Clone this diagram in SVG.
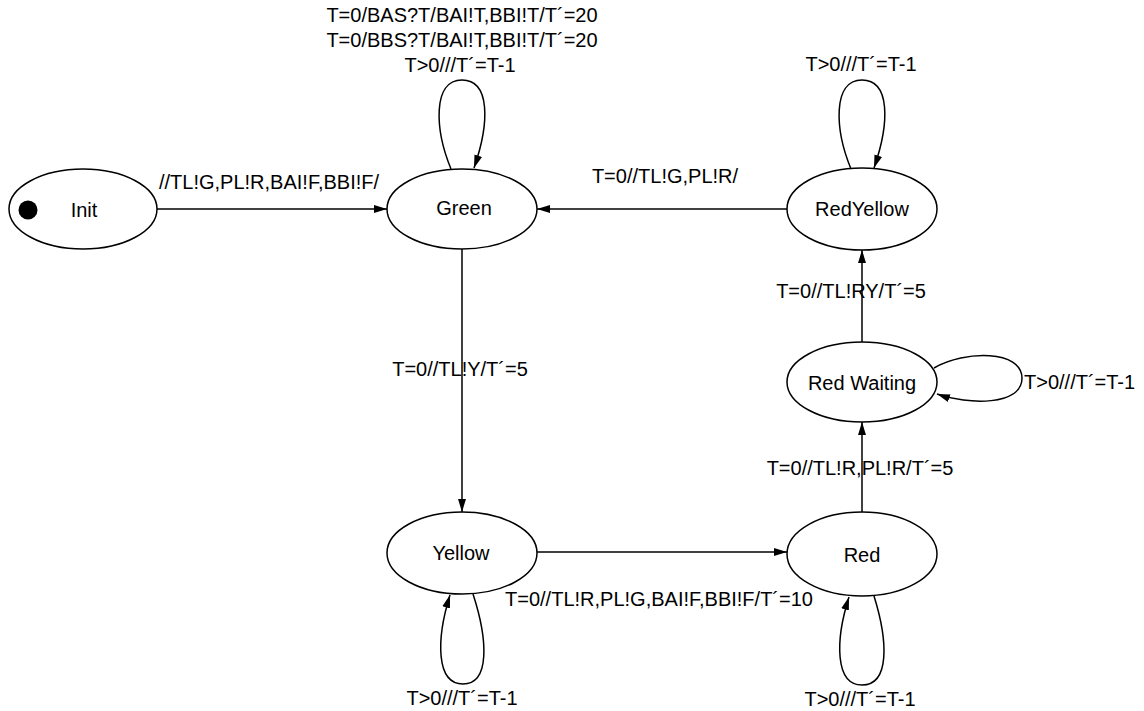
<svg xmlns="http://www.w3.org/2000/svg" width="1144" height="711" viewBox="0 0 1144 711">
<defs>
<marker id="arr" markerWidth="14" markerHeight="10" refX="13" refY="5" orient="auto" markerUnits="userSpaceOnUse">
<path d="M0,1 L13,5 L0,9 Z" fill="#000"/>
</marker>
</defs>
<style>
.n ellipse{fill:#fff;stroke:#000;stroke-width:1.5}
text{font-family:"Liberation Sans",Arial,sans-serif;font-size:20px;fill:#000}
.c{text-anchor:middle}
#edges path,#edges line{fill:none;stroke:#000;stroke-width:1.5;marker-end:url(#arr)}
</style>
<rect width="1144" height="711" fill="#fff"/>
<g id="init" class="n">
<ellipse cx="83" cy="209" rx="74" ry="40"/>
<circle cx="28" cy="210" r="9.5" fill="#000"/>
<text class="c" x="84" y="217">Init</text>
</g>
<g id="green" class="n">
<ellipse cx="462" cy="209" rx="75" ry="40"/>
<text class="c" x="464" y="215">Green</text>
</g>
<g id="redyellow" class="n">
<ellipse cx="862" cy="209" rx="75" ry="41"/>
<text class="c" x="862" y="216">RedYellow</text>
</g>
<g id="redwaiting" class="n">
<ellipse cx="862" cy="382" rx="75" ry="40"/>
<text class="c" x="862" y="390">Red Waiting</text>
</g>
<g id="yellow" class="n">
<ellipse cx="462" cy="553" rx="75" ry="41"/>
<text class="c" x="461" y="560">Yellow</text>
</g>
<g id="red" class="n">
<ellipse cx="862" cy="554" rx="75" ry="42"/>
<text class="c" x="862" y="562">Red</text>
</g>
<g id="edges">
<line x1="157" y1="209" x2="387" y2="209"/>
<line x1="787" y1="209" x2="537" y2="209"/>
<line x1="462" y1="249" x2="462" y2="512"/>
<line x1="537" y1="552" x2="787" y2="552"/>
<line x1="862" y1="512" x2="862" y2="422"/>
<line x1="862" y1="342" x2="862" y2="250"/>
<path d="M451,169 C435,130 432,80 462,80 C490,80 490,122 474,168"/>
<path d="M851,169 C835,130 832,80 862,80 C890,80 890,122 874,168"/>
<path d="M473,594 C488,640 490,684 463,684 C436,684 436,640 450,595"/>
<path d="M874,596 C888,641 890,685 862,685 C835,685 835,641 849,597"/>
<path d="M934,368 C965,350 1022,350 1022,378 C1022,406 968,405 937,394"/>
<text class="c" x="462" y="22">T=0/BAS?T/BAI!T,BBI!T/T´=20</text>
<text class="c" x="462" y="47">T=0/BBS?T/BAI!T,BBI!T/T´=20</text>
<text class="c" x="460" y="72">T&gt;0///T´=T-1</text>
<text class="c" x="269" y="189">//TL!G,PL!R,BAI!F,BBI!F/</text>
<text class="c" x="665" y="183">T=0//TL!G,PL!R/</text>
<text class="c" x="861" y="71">T&gt;0///T´=T-1</text>
<text class="c" x="851" y="298">T=0//TL!RY/T´=5</text>
<text class="c" x="460" y="376">T=0//TL!Y/T´=5</text>
<text class="c" x="860" y="475">T=0//TL!R,PL!R/T´=5</text>
<text class="c" x="659" y="606">T=0//TL!R,PL!G,BAI!F,BBI!F/T´=10</text>
<text class="c" x="462" y="705">T&gt;0///T´=T-1</text>
<text class="c" x="860" y="706">T&gt;0///T´=T-1</text>
<text x="1024" y="389">T&gt;0///T´=T-1</text>
</g>
</svg>
